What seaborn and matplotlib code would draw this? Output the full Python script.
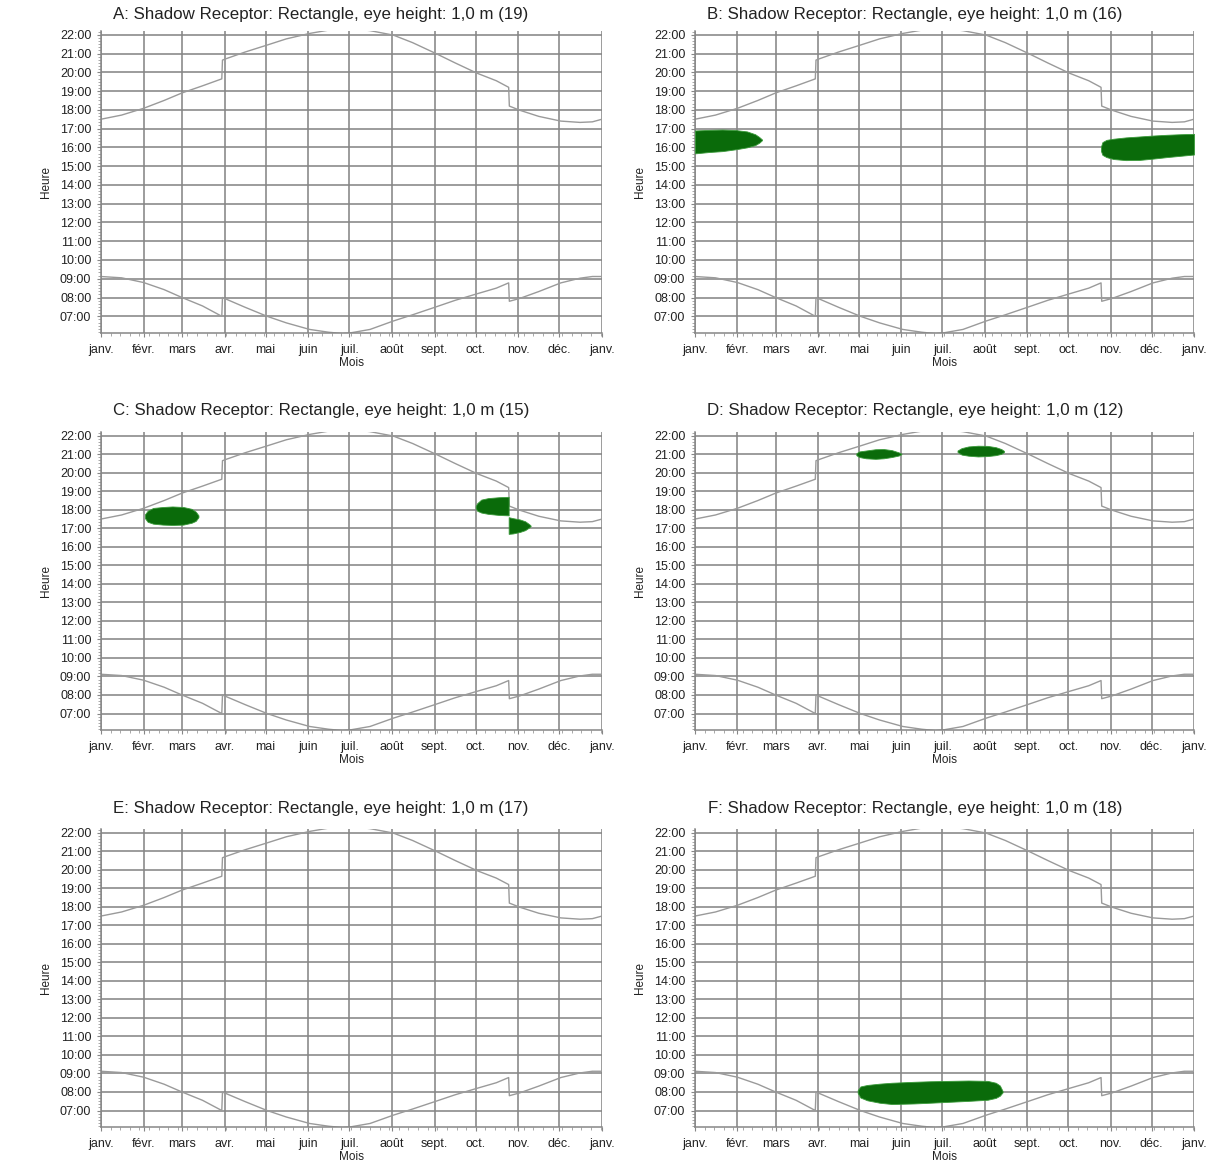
import numpy as np
import pandas as pd
import matplotlib
matplotlib.use("Agg")
import matplotlib.pyplot as plt
from matplotlib.ticker import FixedLocator, MultipleLocator
import seaborn as sns

# ---------------- data ----------------
MONTH_DAYS = [0, 31, 59, 90, 120, 151, 181, 212, 243, 273, 304, 334, 365]
MONTH_LABELS = ["janv.", "févr.", "mars", "avr.", "mai", "juin", "juil.",
                "août", "sept.", "oct.", "nov.", "déc.", "janv."]
HOUR_TICKS = list(range(7, 23))
HOUR_LABELS = [f"{h:02d}:00" for h in HOUR_TICKS]

# sunset (upper curve), day of year -> hour
SUNSET_DAY = [0, 15, 31, 46, 59, 74, 88, 88.5, 91, 105, 121, 135, 152, 166, 176,
              182, 196, 213, 227, 244, 258, 274, 288, 297, 297.5, 305, 319, 335,
              349, 358, 365]
SUNSET_H = [17.5, 17.72, 18.08, 18.5, 18.9, 19.28, 19.65, 20.65, 20.72, 21.08,
            21.45, 21.78, 22.07, 22.25, 22.33, 22.34, 22.22, 21.98, 21.58, 21.0,
            20.5, 19.95, 19.55, 19.2, 18.2, 17.98, 17.65, 17.4, 17.33, 17.36, 17.5]

# sunrise (lower curve)
SUNRISE_DAY = [0, 15, 31, 46, 59, 74, 88, 88.5, 91, 105, 121, 135, 152, 166, 176,
               182, 196, 213, 227, 244, 258, 274, 288, 297, 297.5, 305, 319, 335,
               349, 358, 365]
SUNRISE_H = [9.12, 9.05, 8.8, 8.42, 8.0, 7.55, 7.0, 8.0, 7.92, 7.48, 7.0, 6.65,
             6.3, 6.15, 6.08, 6.12, 6.3, 6.75, 7.08, 7.5, 7.85, 8.2, 8.5, 8.78,
             7.8, 7.95, 8.32, 8.78, 9.03, 9.12, 9.12]

PANEL_LETTERS = ["A", "B", "C", "D", "E", "F"]
PANEL_COUNTS = [19, 16, 15, 12, 17, 18]

# shadow periods (green): day, lower hour, upper hour
B1_DAY = [0, 10, 20, 30, 38, 44, 47, 49]
B1_LOW = [15.68, 15.75, 15.8, 15.9, 16.0, 16.12, 16.25, 16.38]
B1_HIGH = [16.9, 16.93, 16.95, 16.92, 16.85, 16.7, 16.55, 16.42]

B2_DAY = [297, 298, 301, 306, 315, 325, 335, 345, 355, 365]
B2_LOW = [15.8, 15.6, 15.48, 15.38, 15.32, 15.33, 15.4, 15.48, 15.55, 15.62]
B2_HIGH = [16.05, 16.28, 16.4, 16.46, 16.53, 16.58, 16.63, 16.67, 16.7, 16.72]

C1_DAY = [32, 34, 38, 45, 52, 60, 66, 69, 71]
C1_LOW = [17.55, 17.35, 17.25, 17.2, 17.18, 17.2, 17.3, 17.4, 17.6]
C1_HIGH = [17.75, 17.95, 18.1, 18.15, 18.18, 18.15, 18.05, 17.9, 17.7]

C2_DAY = [273, 274, 277, 282, 290, 297]
C2_LOW = [18.1, 17.95, 17.85, 17.78, 17.72, 17.7]
C2_HIGH = [18.2, 18.35, 18.55, 18.63, 18.68, 18.7]

C3_DAY = [297, 300, 305, 309, 312, 313]
C3_LOW = [16.7, 16.72, 16.8, 16.9, 17.05, 17.12]
C3_HIGH = [17.6, 17.55, 17.48, 17.38, 17.22, 17.15]

D1_DAY = [118, 120, 125, 132, 138, 144, 149, 151]
D1_LOW = [20.95, 20.85, 20.78, 20.75, 20.78, 20.85, 20.93, 21.0]
D1_HIGH = [21.05, 21.15, 21.2, 21.27, 21.28, 21.22, 21.1, 21.03]

D2_DAY = [192, 195, 200, 207, 214, 220, 224, 226]
D2_LOW = [21.12, 20.98, 20.92, 20.88, 20.9, 20.95, 21.02, 21.12]
D2_HIGH = [21.2, 21.33, 21.42, 21.46, 21.45, 21.38, 21.28, 21.18]

F1_DAY = [119, 121, 126, 135, 144, 160, 172, 186, 200, 214, 220, 223, 225]
F1_LOW = [7.95, 7.7, 7.55, 7.42, 7.35, 7.38, 7.42, 7.47, 7.52, 7.58, 7.68, 7.8, 7.98]
F1_HIGH = [8.1, 8.3, 8.38, 8.45, 8.5, 8.55, 8.58, 8.6, 8.62, 8.6, 8.5, 8.35, 8.05]

SHADOWS = {
    "A": [],
    "B": [(B1_DAY, B1_LOW, B1_HIGH), (B2_DAY, B2_LOW, B2_HIGH)],
    "C": [(C1_DAY, C1_LOW, C1_HIGH), (C2_DAY, C2_LOW, C2_HIGH), (C3_DAY, C3_LOW, C3_HIGH)],
    "D": [(D1_DAY, D1_LOW, D1_HIGH), (D2_DAY, D2_LOW, D2_HIGH)],
    "E": [],
    "F": [(F1_DAY, F1_LOW, F1_HIGH)],
}

# ---------------- style ----------------
sns.set_theme(style="white")
plt.rcParams['font.family'] = ['Liberation Sans', 'DejaVu Sans']
TEXT = "#222222"
GRID = "#868686"
CURVE = "#9a9a9a"
GREEN = "#0a6b0a"

W, H = 1227, 1161
fig = plt.figure(figsize=(W / 100, H / 100), dpi=100)

# pixel boxes (left, top, right, bottom)
BOXES = [(101, 31, 602, 333), (695, 31, 1194, 333),
         (101, 432, 602, 730), (695, 432, 1194, 730),
         (101, 829, 602, 1127), (695, 829, 1194, 1127)]
TITLE_Y = [15, 15, 411, 411, 808, 808]

curve_sunset = pd.DataFrame({"day": SUNSET_DAY, "hour": SUNSET_H})
curve_sunrise = pd.DataFrame({"day": SUNRISE_DAY, "hour": SUNRISE_H})

for i, (l, t, r, b) in enumerate(BOXES):
    ax = fig.add_axes([l / W, 1 - b / H, (r - l) / W, (b - t) / H])
    letter = PANEL_LETTERS[i]

    for d, lo, hi in SHADOWS[letter]:
        ax.fill_between(d, lo, hi, color=GREEN, edgecolor="#3a9a3a",
                        linewidth=0.6, zorder=3)

    sns.lineplot(data=curve_sunset, x="day", y="hour", sort=False, estimator=None,
                 color=CURVE, linewidth=1.0, ax=ax, zorder=2)
    sns.lineplot(data=curve_sunrise, x="day", y="hour", sort=False, estimator=None,
                 color=CURVE, linewidth=1.0, ax=ax, zorder=2)

    ax.set_xlim(0, 365)
    ax.set_ylim(6.11, 22.2)

    ax.xaxis.set_major_locator(FixedLocator(MONTH_DAYS))
    ax.set_xticklabels(MONTH_LABELS)
    ax.xaxis.set_minor_locator(MultipleLocator(7))
    ax.yaxis.set_major_locator(FixedLocator(HOUR_TICKS))
    ax.set_yticklabels(HOUR_LABELS)
    ax.yaxis.set_minor_locator(MultipleLocator(1 / 6))

    ax.grid(True, which="major", color=GRID, linewidth=1.15, zorder=1)
    ax.set_axisbelow(True)
    for s in ["top", "right"]:
        ax.spines[s].set_visible(False)
    for s in ["left", "bottom"]:
        ax.spines[s].set_color(GRID)
        ax.spines[s].set_linewidth(1.1)

    ax.tick_params(axis="both", which="major", direction="out", length=3,
                   width=0.8, color=GRID, labelsize=9, labelcolor=TEXT,
                   bottom=True, left=True)
    ax.tick_params(axis="x", which="major", pad=5)
    ax.tick_params(axis="y", which="major", pad=4)
    ax.tick_params(axis="both", which="minor", direction="out", length=2.5,
                   width=0.6, color="#9a9a9a", bottom=True, left=True)

    ax.set_xlabel("Mois", fontsize=8.5, color=TEXT)
    ax.set_ylabel("Heure", fontsize=8.5, color=TEXT)
    ax.xaxis.set_label_coords(0.5, -0.08)
    ax.yaxis.set_label_coords(-0.098, 0.5)

    fig.text((l + 220) / W, 1 - TITLE_Y[i] / H,
             f"{letter}: Shadow Receptor: Rectangle, eye height: 1,0 m ({PANEL_COUNTS[i]})",
             ha="center", va="center", fontsize=12.2, color=TEXT)

fig.savefig("out.png", dpi=100, facecolor="white")
